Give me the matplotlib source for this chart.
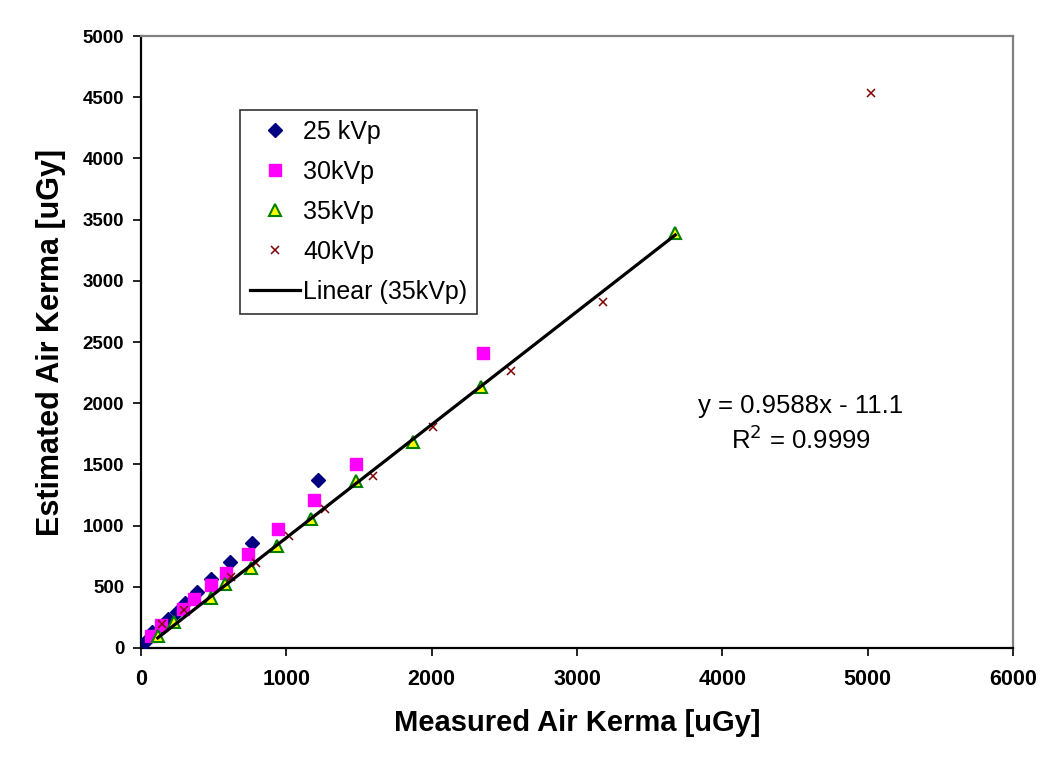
import matplotlib
matplotlib.use("Agg")
import matplotlib.pyplot as plt
import numpy as np

plt.rcParams['font.family'] = ['Liberation Sans', 'DejaVu Sans']

# 25 kVp
x25 = [27, 73, 150, 187, 251, 302, 382, 485, 615, 766, 1215]
y25 = [52, 128, 175, 235, 297, 371, 461, 565, 701, 860, 1375]
# 30 kVp
x30 = [69, 137, 290, 366, 480, 583, 736, 942, 1187, 1480, 2351]
y30 = [98, 188, 316, 398, 516, 611, 772, 971, 1209, 1503, 2411]
# 35 kVp
x35 = [115, 228, 485, 581, 760, 938, 1167, 1480, 1874, 2338, 3676]
y35 = [98, 215, 406, 521, 657, 835, 1053, 1361, 1680, 2130, 3393]
# 40 kVp
x40 = [142, 297, 622, 794, 1016, 1263, 1599, 2011, 2546, 3178, 5026]
y40 = [196, 311, 583, 693, 911, 1135, 1407, 1806, 2259, 2826, 4533]

eq_text = "y = 0.9588x - 11.1"
r2_text = "R$^2$ = 0.9999"

xticks = [0, 1000, 2000, 3000, 4000, 5000, 6000]
yticks = [0, 500, 1000, 1500, 2000, 2500, 3000, 3500, 4000, 4500, 5000]

fig = plt.figure(figsize=(10.5, 7.63), dpi=100)
ax = fig.add_axes([141/1050, 1-648/763, (1013-141)/1050, (648-36)/763])

ax.plot(x25, y25, linestyle='none', marker='D', markersize=7.5, color='#000080',
        markeredgecolor='#000080', label='25 kVp', zorder=3)
ax.plot(x30, y30, linestyle='none', marker='s', markersize=8, color='#FF00FF',
        markeredgecolor='#FF00FF', label='30kVp', zorder=3)
ax.plot(x35, y35, linestyle='none', marker='^', markersize=8.5, markerfacecolor='#FFFF00',
        markeredgecolor='#008000', markeredgewidth=1.5, label='35kVp', zorder=3)
ax.plot(x40, y40, linestyle='none', marker='x', markersize=6, color='#800000',
        markeredgewidth=1.1, label='40kVp', zorder=3)

# linear trendline fitted to the 35 kVp series
fit = np.polyfit(x35, y35, 1)
xl = np.array([min(x35), max(x35)])
ax.plot(xl, np.polyval(fit, xl), color='black', linewidth=2.3, label='Linear (35kVp)', zorder=4)

ax.set_xlim(0, 6000)
ax.set_ylim(0, 5000)
ax.set_xticks(xticks)
ax.set_yticks(yticks)
ax.tick_params(axis='x', direction='out', length=6, width=1.2, labelsize=15.5, pad=9)
ax.tick_params(axis='y', direction='out', length=6, width=1.2, labelsize=13.5, pad=6)
for lab in ax.get_xticklabels() + ax.get_yticklabels():
    lab.set_fontweight('bold')

for side in ['left', 'bottom']:
    ax.spines[side].set_color('black')
    ax.spines[side].set_linewidth(1.6)
for side in ['right', 'top']:
    ax.spines[side].set_color('#808080')
    ax.spines[side].set_linewidth(1.6)

ax.set_xlabel('Measured Air Kerma [uGy]', fontsize=21, fontweight='bold', labelpad=14)
ax.set_ylabel('Estimated Air Kerma [uGy]', fontsize=22, fontweight='bold', labelpad=12)

ax.text(4540, 1980, eq_text, fontsize=18.5, ha='center', va='center')
ax.text(4540, 1700, r2_text, fontsize=18.5, ha='center', va='center')

leg = ax.legend(loc='upper left', bbox_to_anchor=(240/1050, 1-110/763),
                bbox_transform=fig.transFigure, borderaxespad=0, fancybox=False,
                shadow=False, frameon=True, fontsize=18, handlelength=2.0,
                handletextpad=0.12, labelspacing=0.64, borderpad=0.4)
leg.get_frame().set_edgecolor('black')
leg.get_frame().set_linewidth(1.2)

fig.savefig('out.png', dpi=100)
